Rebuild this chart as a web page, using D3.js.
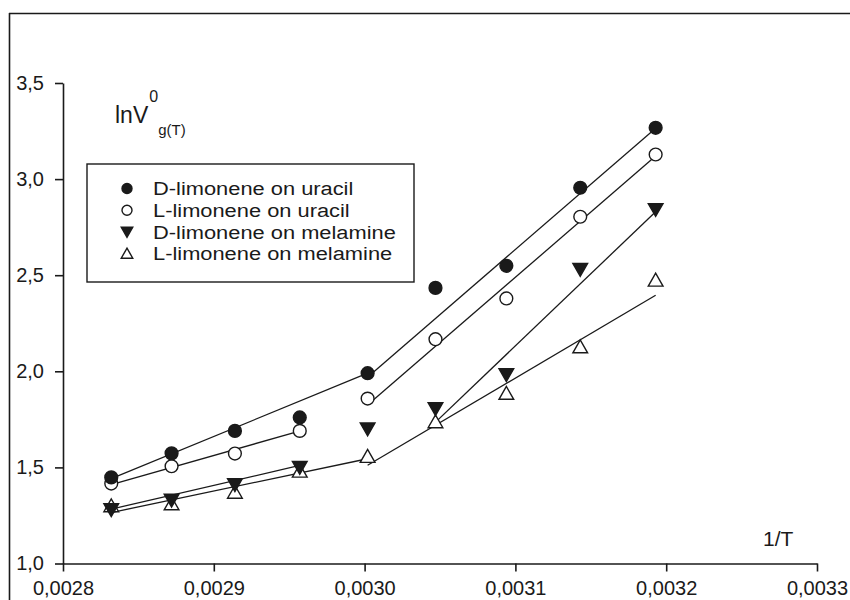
<!DOCTYPE html>
<html lang="en">
<head>
    <meta charset="UTF-8"/>
    <title>lnV vs 1/T</title>
    <script src="https://d3js.org/d3.v7.min.js"></script>
    <style>
        body { margin: 0; background: white; }
        text { font-family: "Liberation Sans", Arial, sans-serif; fill: #1a1a1a; }
    </style>
</head>
<body>
    <script>
        // 1/T values shared by all series
        var invT = [0.002832, 0.002872, 0.002914, 0.002957, 0.003002, 0.003047, 0.003094, 0.003143, 0.003193];

        var dUracil = [1.448, 1.573, 1.690, 1.760, 1.990, 2.434, 2.549, 2.955, 3.267];
        var lUracil = [1.416, 1.506, 1.572, 1.690, 1.858, 2.167, 2.379, 2.804, 3.128];
        var dMelamine = [1.280, 1.330, 1.410, 1.500, 1.700, 1.806, 1.983, 2.531, 2.842];
        var lMelamine = [1.300, 1.310, 1.370, 1.480, 1.557, 1.737, 1.885, 2.127, 2.474];

        // fitted line segments, [x1, y1, x2, y2]
        var dUracilFit = [[0.002832, 1.442, 0.003002, 1.990], [0.003005, 1.990, 0.003193, 3.265]];
        var lUracilFit = [[0.002832, 1.410, 0.002955, 1.685], [0.003005, 1.845, 0.003193, 3.120]];
        var dMelamineFit = [[0.002832, 1.283, 0.002957, 1.510], [0.003045, 1.720, 0.003193, 2.830]];
        var lMelamineFit = [[0.002832, 1.265, 0.003002, 1.545], [0.003002, 1.511, 0.003193, 2.396]];

        var xTicks = [0.0028, 0.0029, 0.0030, 0.0031, 0.0032, 0.0033];
        var yTicks = [1.0, 1.5, 2.0, 2.5, 3.0, 3.5];

        var seriesNames = ["D-limonene on uracil", "L-limonene on uracil", "D-limonene on melamine", "L-limonene on melamine"];
        var seriesSymbols = ["fcircle", "ocircle", "dtri", "otri"];

        var w = 850;
        var h = 600;
        var ink = "#1a1a1a";

        var xScale = d3.scaleLinear()
            .domain([0.0028, 0.0033])
            .range([63, 817]);

        var yScale = d3.scaleLinear()
            .domain([1.0, 3.5])
            .range([563.5, 83]);

        var svg = d3.select("body")
            .append("svg")
            .attr("width", w)
            .attr("height", h);

        // frame (top and left edges only, picture is cropped)
        svg.append("line").attr("x1", 9).attr("y1", 13.5).attr("x2", w).attr("y2", 13.5)
            .attr("stroke", ink).attr("stroke-width", 1.6);
        svg.append("line").attr("x1", 9.5).attr("y1", 13).attr("x2", 9.5).attr("y2", h)
            .attr("stroke", ink).attr("stroke-width", 1.6);

        // axes
        var xAxis = svg.append("g")
            .attr("transform", "translate(0," + yScale(1.0) + ")")
            .call(d3.axisBottom(xScale)
                .tickValues(xTicks)
                .tickSize(8)
                .tickSizeOuter(0)
                .tickPadding(9)
                .tickFormat(function(d) { return d3.format(".4f")(d).replace(".", ","); }));

        var yAxis = svg.append("g")
            .attr("transform", "translate(" + xScale(0.0028) + ",0)")
            .call(d3.axisLeft(yScale)
                .tickValues(yTicks)
                .tickSize(8)
                .tickSizeOuter(0)
                .tickPadding(11)
                .tickFormat(function(d) { return d3.format(".1f")(d).replace(".", ","); }));

        svg.selectAll(".domain, .tick line").attr("stroke", ink).attr("stroke-width", 1.6);
        svg.selectAll(".tick text")
            .attr("font-size", "20px")
            .attr("font-family", "Liberation Sans, Arial, sans-serif")
            .attr("fill", ink);

        // axis titles
        svg.append("text")
            .attr("x", 763)
            .attr("y", 546)
            .attr("font-size", "21px")
            .text("1/T");

        var ylab = svg.append("text")
            .attr("x", 115)
            .attr("y", 123)
            .attr("font-size", "23px");
        ylab.append("tspan").text("lnV");
        ylab.append("tspan").attr("font-size", "16px").attr("dx", 1).attr("dy", -21).text("0");
        ylab.append("tspan").attr("font-size", "15px").attr("dy", 33).text("g(T)");

        // fitted lines
        var fits = [dUracilFit, lUracilFit, dMelamineFit, lMelamineFit];
        fits.forEach(function(segs) {
            svg.append("g").selectAll("line")
                .data(segs)
                .enter()
                .append("line")
                .attr("x1", function(d) { return xScale(d[0]); })
                .attr("y1", function(d) { return yScale(d[1]); })
                .attr("x2", function(d) { return xScale(d[2]); })
                .attr("y2", function(d) { return yScale(d[3]); })
                .attr("stroke", ink)
                .attr("stroke-width", 1.3);
        });

        // marker drawing
        function drawMarker(sel, kind, r) {
            if (kind === "fcircle" || kind === "ocircle") {
                sel.append("circle")
                    .attr("r", r)
                    .attr("fill", kind === "fcircle" ? ink : "white")
                    .attr("stroke", ink)
                    .attr("stroke-width", 1.4);
            } else {
                var s = r * 1.15;
                var pts = kind === "dtri"
                    ? [[-s, -s * 0.8], [s, -s * 0.8], [0, s * 0.95]]
                    : [[-s, s * 0.8], [s, s * 0.8], [0, -s * 0.95]];
                sel.append("path")
                    .attr("d", d3.line()(pts) + "Z")
                    .attr("fill", kind === "dtri" ? ink : "white")
                    .attr("stroke", ink)
                    .attr("stroke-width", 1.4);
            }
        }

        var allSeries = [dUracil, lUracil, dMelamine, lMelamine];
        // open triangles first, filled ones on top
        [3, 2, 1, 0].forEach(function(k) {
            svg.append("g").selectAll("g")
                .data(allSeries[k])
                .enter()
                .append("g")
                .attr("transform", function(d, i) { return "translate(" + xScale(invT[i]) + "," + yScale(d) + ")"; })
                .each(function() { drawMarker(d3.select(this), seriesSymbols[k], 6.4); });
        });

        // legend
        var legend = svg.append("g");
        legend.append("rect")
            .attr("x", 87)
            .attr("y", 164)
            .attr("width", 327)
            .attr("height", 118)
            .attr("fill", "white")
            .attr("stroke", ink)
            .attr("stroke-width", 1.4);

        var rows = legend.selectAll(".row")
            .data(seriesNames)
            .enter()
            .append("g")
            .attr("class", "row")
            .attr("transform", function(d, i) { return "translate(0," + (188.5 + i * 21.7) + ")"; });

        rows.each(function(d, i) {
            var g = d3.select(this).append("g").attr("transform", "translate(127,0)");
            drawMarker(g, seriesSymbols[i], 5);
        });

        // legend text in the source is drawn a bit wide
        rows.append("text")
            .attr("transform", "translate(153,0) scale(1.15,1)")
            .attr("dy", "0.36em")
            .attr("font-size", "19px")
            .text(function(d) { return d; });
    </script>
</body>
</html>
